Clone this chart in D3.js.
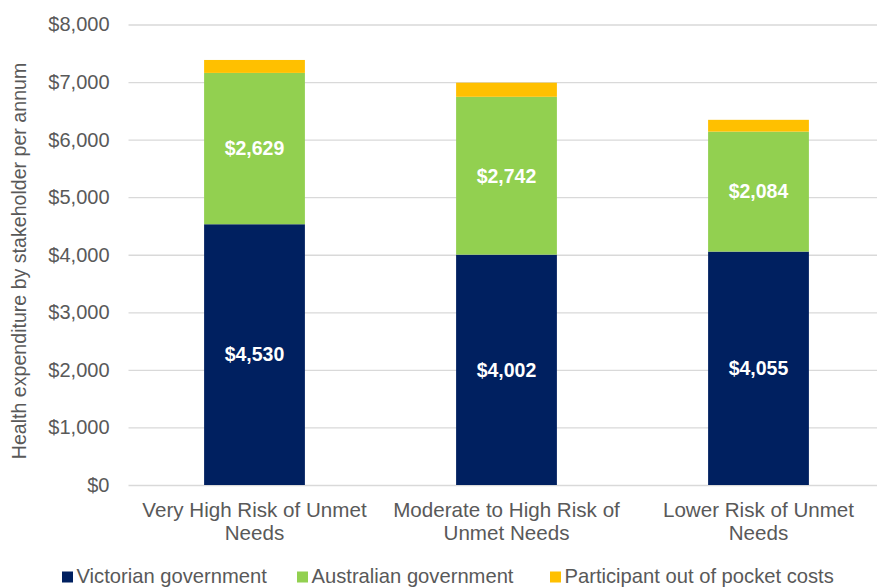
<!DOCTYPE html>
<html>
<head>
<meta charset="utf-8">
<script src="https://cdn.jsdelivr.net/npm/d3@7/dist/d3.min.js"></script>
<style>
  html, body { margin: 0; padding: 0; background: #fff; }
  svg { display: block; font-family: "Liberation Sans", Arial, sans-serif; }
</style>
</head>
<body>
<svg id="chart" width="877" height="587"></svg>
<script>
// Health expenditure per participant, split by who pays
const categories = [
  "Very High Risk of Unmet Needs",
  "Moderate to High Risk of Unmet Needs",
  "Lower Risk of Unmet Needs"
];
const seriesNames = ["Victorian government", "Australian government", "Participant out of pocket costs"];
const victorian = [4530, 4002, 4055];
const australian = [2629, 2742, 2084];
const outOfPocket = [225, 245, 205];
const yTicks = [0, 1000, 2000, 3000, 4000, 5000, 6000, 7000, 8000];
const colors = ["#002060", "#92D050", "#FFC000"];

const svg = d3.select("#chart");
const textColor = "#595959";

const plot = { left: 128.5, right: 884.5, top: 24.5, bottom: 485 };

const x = d3.scaleBand()
  .domain(categories)
  .range([plot.left, plot.right])
  .paddingInner(0.6)
  .paddingOuter(0.3);

const y = d3.scaleLinear()
  .domain([0, 8000])
  .range([plot.bottom, plot.top]);

const fmt = v => "$" + d3.format(",")(v);

// Gridlines and y tick labels
const yAxis = d3.axisLeft(y)
  .tickValues(yTicks)
  .tickSize(-(plot.right - plot.left))
  .tickPadding(19)
  .tickFormat(fmt);

const gy = svg.append("g")
  .attr("transform", `translate(${plot.left},0)`)
  .call(yAxis);
gy.select(".domain").remove();
gy.selectAll(".tick line").attr("stroke", "#D9D9D9").attr("stroke-width", 1.3);
gy.selectAll(".tick text")
  .attr("fill", textColor)
  .style("font-size", "20px");

// Stacked data
const rows = categories.map((c, i) => ({
  cat: c,
  [seriesNames[0]]: victorian[i],
  [seriesNames[1]]: australian[i],
  [seriesNames[2]]: outOfPocket[i]
}));
const stacked = d3.stack().keys(seriesNames)(rows);

const layers = svg.append("g").selectAll("g")
  .data(stacked)
  .join("g")
  .attr("fill", (d, i) => colors[i]);

layers.selectAll("rect")
  .data(d => d)
  .join("rect")
  .attr("x", d => x(d.data.cat))
  .attr("width", x.bandwidth())
  .attr("y", d => y(d[1]))
  .attr("height", d => y(d[0]) - y(d[1]));

// Value labels for the two government segments
const labelled = stacked.slice(0, 2);
svg.append("g").selectAll("g")
  .data(labelled)
  .join("g")
  .selectAll("text")
  .data(d => d)
  .join("text")
  .attr("x", d => x(d.data.cat) + x.bandwidth() / 2)
  .attr("y", d => y((d[0] + d[1]) / 2))
  .attr("dy", "0.35em")
  .attr("text-anchor", "middle")
  .attr("fill", "#fff")
  .style("font-size", "19.5px")
  .style("font-weight", "bold")
  .text(d => fmt(d[1] - d[0]));

// Category labels, wrapped onto two lines
const xg = svg.append("g");
categories.forEach(c => {
  const cx = x(c) + x.bandwidth() / 2;
  const t = xg.append("text")
    .attr("x", cx)
    .attr("y", 517)
    .attr("text-anchor", "middle")
    .attr("fill", textColor)
    .style("font-size", "20.6px");
  const words = c.split(" ");
  let line = [];
  let tspan = t.append("tspan").attr("x", cx);
  words.forEach(w => {
    line.push(w);
    tspan.text(line.join(" "));
    if (tspan.node().getComputedTextLength() > 238 && line.length > 1) {
      line.pop();
      tspan.text(line.join(" "));
      line = [w];
      tspan = t.append("tspan")
        .attr("x", cx)
        .attr("dy", 23)
        .text(w);
    }
  });
});

// Y axis title
svg.append("text")
  .attr("transform", `translate(26,261) rotate(-90)`)
  .attr("text-anchor", "middle")
  .attr("fill", textColor)
  .style("font-size", "19.6px")
  .text("Health expenditure by stakeholder per annum");

// Legend
const legendX = [62, 297, 550];
const legend = svg.append("g");
seriesNames.forEach((name, i) => {
  const g = legend.append("g").attr("transform", `translate(${legendX[i]},0)`);
  g.append("rect")
    .attr("x", 0).attr("y", 571.5)
    .attr("width", 11).attr("height", 11)
    .attr("fill", colors[i]);
  g.append("text")
    .attr("x", 14.5).attr("y", 583)
    .attr("fill", textColor)
    .style("font-size", "20.2px")
    .text(name);
});
</script>
</body>
</html>
